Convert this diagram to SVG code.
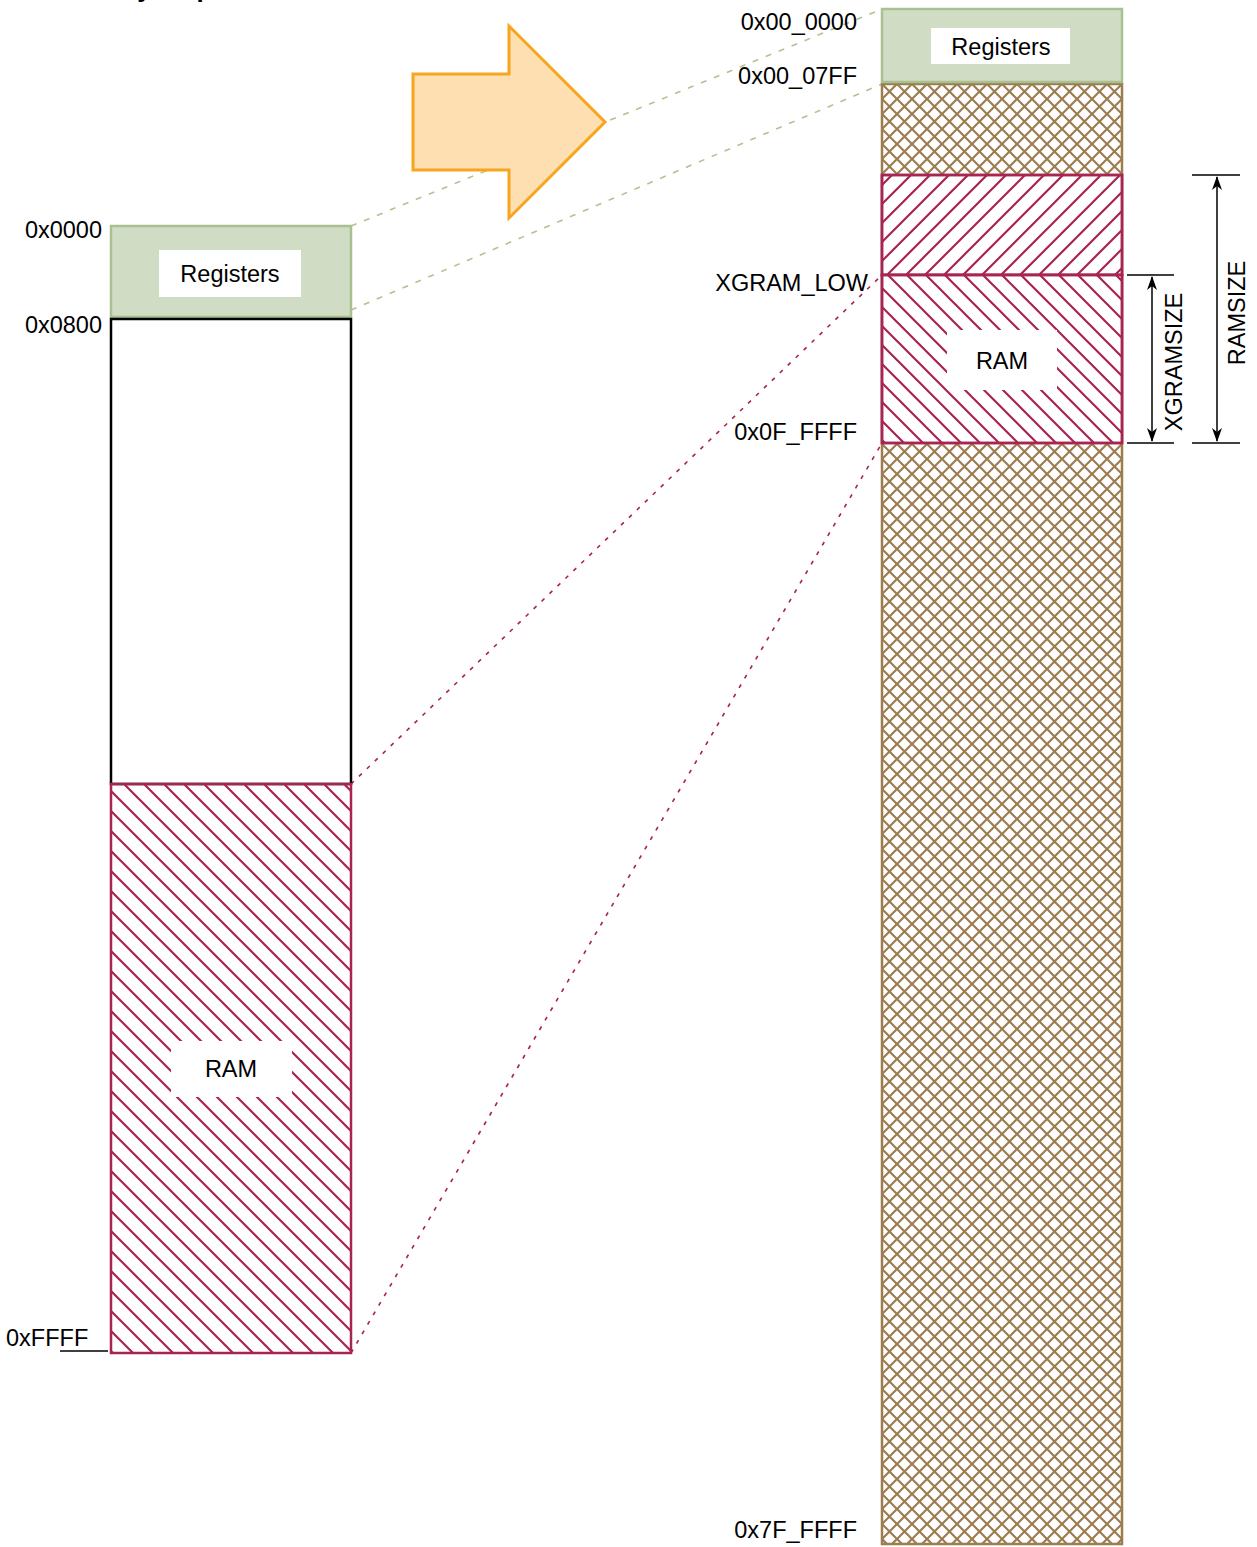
<svg xmlns="http://www.w3.org/2000/svg" width="1257" height="1547" viewBox="0 0 1257 1547">
<style>
text{font-family:"Liberation Sans",Arial,sans-serif;font-size:23.5px;fill:#000}
.mid{text-anchor:middle}
.end{text-anchor:end}
.reg{fill:#d0dcc4;stroke:#a9c191;stroke-width:2.5}
.lbl{fill:#fff;stroke:none}
.ram{stroke:#a82451;stroke-width:2.5}
.dim{stroke:#000;stroke-width:1.5;fill:none}
.gdash{stroke:#b2c295;stroke-width:1.6;stroke-dasharray:6 8;fill:none}
.rdash{stroke:#a82451;stroke-width:1.6;stroke-dasharray:4 7;fill:none}
</style>
<defs>
<pattern id="hatchBack" patternUnits="userSpaceOnUse" width="20" height="20">
<path d="M0,0 L20,20 M-10,10 L10,30 M10,-10 L30,10" stroke="#a82451" stroke-width="2.2" fill="none"/>
</pattern>
<pattern id="hatchBackR" patternUnits="userSpaceOnUse" width="19" height="19" x="5">
<path d="M0,0 L19,19 M-9.5,9.5 L9.5,28.5 M9.5,-9.5 L28.5,9.5" stroke="#a82451" stroke-width="2.2" fill="none"/>
</pattern>
<pattern id="hatchFwd" patternUnits="userSpaceOnUse" width="19" height="19" x="3">
<path d="M0,19 L19,0 M-9.5,9.5 L9.5,-9.5 M9.5,28.5 L28.5,9.5" stroke="#a82451" stroke-width="2.2" fill="none"/>
</pattern>
<pattern id="cross" patternUnits="userSpaceOnUse" width="15" height="15" x="882" y="84">
<path d="M0,0 L15,15 M0,15 L15,0 M-7.5,7.5 L7.5,22.5 M7.5,-7.5 L22.5,7.5 M-7.5,7.5 L7.5,-7.5 M7.5,22.5 L22.5,7.5" stroke="#9c7d50" stroke-width="2.2" fill="none"/>
</pattern>
<marker id="ah" viewBox="0 0 14 10" refX="13" refY="5" markerWidth="14" markerHeight="10" markerUnits="userSpaceOnUse" orient="auto-start-reverse">
<path d="M0,0 L14,5 L0,10 L4,5 Z" fill="#000"/>
</marker>
</defs>
<rect width="1257" height="1547" fill="#fff"/>

<text x="52" y="-3.5" style="font-weight:bold;font-size:26px">Memory map</text>

<g id="connectors">
<path class="gdash" d="M351,226 L882,9"/>
<path class="gdash" d="M351,310 L882,84"/>
<path class="rdash" d="M351,784 L882,275"/>
<path class="rdash" d="M351,1353 L882,443"/>
</g>

<g id="arrow">
<polygon points="413,74 509,74 509,26 605,122 509,218 509,170 413,170" fill="#fddfb2" stroke="#f8a51e" stroke-width="3"/>
</g>

<g id="left-registers">
<rect class="reg" x="111" y="226" width="240" height="91"/>
<rect class="lbl" x="159" y="250" width="142" height="47"/>
<text class="mid" x="230" y="282">Registers</text>
</g>
<g id="left-empty">
<rect x="111" y="319" width="240" height="465" fill="#fff" stroke="#000" stroke-width="2.5"/>
</g>
<g id="left-ram">
<rect class="ram" x="111" y="784" width="240" height="569" fill="url(#hatchBack)"/>
<rect class="lbl" x="171" y="1041" width="121" height="56"/>
<text class="mid" x="231" y="1077">RAM</text>
</g>
<g id="left-labels">
<text class="end" x="102" y="238">0x0000</text>
<text class="end" x="102" y="333">0x0800</text>
<text x="6" y="1346">0xFFFF</text>
<line x1="60" y1="1351" x2="108" y2="1351" stroke="#000" stroke-width="1.5"/>
</g>

<g id="right-space">
<rect x="882" y="84" width="240" height="1460" fill="url(#cross)" stroke="#9c7d50" stroke-width="2.5"/>
</g>
<g id="right-registers">
<rect class="reg" x="882" y="9" width="240" height="73"/>
<rect class="lbl" x="931" y="28" width="139" height="36"/>
<text class="mid" x="1001" y="55">Registers</text>
</g>
<g id="right-ram-high">
<rect class="ram" x="882" y="175" width="240" height="100" fill="#fff"/>
<rect x="882" y="175" width="240" height="100" fill="url(#hatchFwd)" class="ram"/>
</g>
<g id="right-xgram">
<rect class="ram" x="882" y="275" width="240" height="168" fill="#fff"/>
<rect class="ram" x="882" y="275" width="240" height="168" fill="url(#hatchBackR)"/>
<rect class="lbl" x="947" y="330" width="110" height="60"/>
<text class="mid" x="1002" y="369">RAM</text>
</g>
<g id="right-labels">
<text class="end" x="857" y="30">0x00_0000</text>
<text class="end" x="857" y="84">0x00_07FF</text>
<text class="end" x="868" y="291">XGRAM_LOW</text>
<text class="end" x="857" y="440">0x0F_FFFF</text>
<text class="end" x="857" y="1538">0x7F_FFFF</text>
</g>

<g id="dim-xgramsize">
<line class="dim" x1="1127" y1="275" x2="1174" y2="275"/>
<line class="dim" x1="1127" y1="443" x2="1174" y2="443"/>
<line class="dim" x1="1152" y1="277" x2="1152" y2="441" marker-start="url(#ah)" marker-end="url(#ah)"/>
<text class="mid" transform="translate(1182,362) rotate(-90)">XGRAMSIZE</text>
</g>
<g id="dim-ramsize">
<line class="dim" x1="1192" y1="175" x2="1240" y2="175"/>
<line class="dim" x1="1192" y1="443" x2="1240" y2="443"/>
<line class="dim" x1="1217" y1="177" x2="1217" y2="441" marker-start="url(#ah)" marker-end="url(#ah)"/>
<text class="mid" transform="translate(1245,313) rotate(-90)">RAMSIZE</text>
</g>
</svg>
